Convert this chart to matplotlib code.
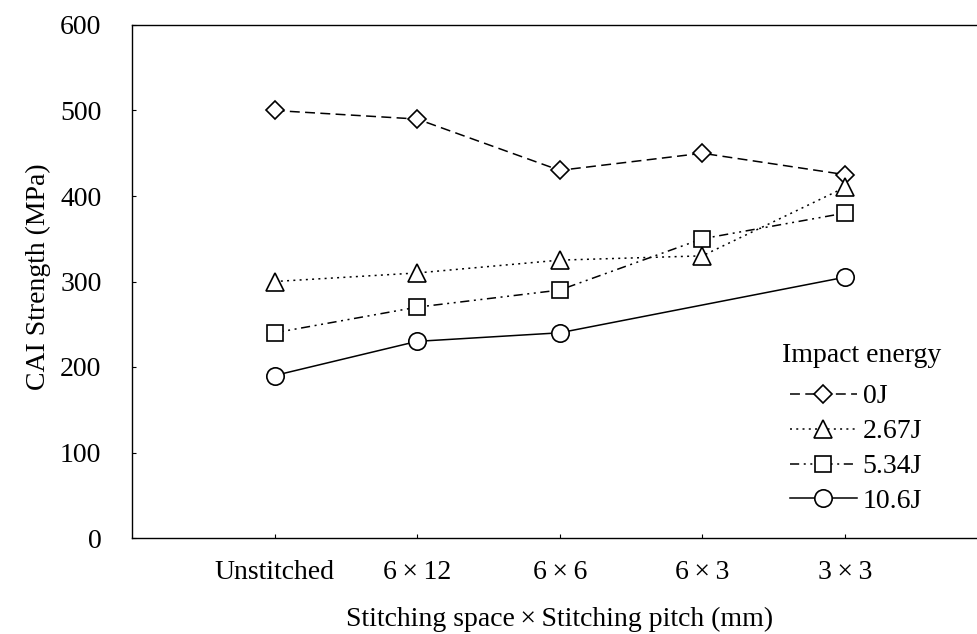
import numpy as np
import matplotlib
matplotlib.use("Agg")
import matplotlib.pyplot as plt

plt.rcParams['font.family'] = ['Liberation Serif', 'DejaVu Serif']

# data
categories = ["Unstitched", "6\u2009\u00d7\u200912", "6\u2009\u00d7\u20096", "6\u2009\u00d7\u20093", "3\u2009\u00d7\u20093"]
cai_0J = [500, 490, 430, 450, 425]
cai_267J = [300, 310, 325, 330, 410]
cai_534J = [240, 270, 290, 350, 380]
cai_106J_idx = [0, 1, 2, 4]          # no point at 6x3 for 10.6J
cai_106J = [190, 230, 240, 305]
y_ticks = [0, 100, 200, 300, 400, 500, 600]

FS = 20
W, H = 978, 634
fig = plt.figure(figsize=(W / 100, H / 100), dpi=100)
left, right, top, bottom = 132, 987.5, 25, 538
ax = fig.add_axes([left / W, 1 - bottom / H, (right - left) / W, (bottom - top) / H])

mk = dict(color='black', lw=1.1, markerfacecolor='white', markeredgecolor='black',
          markeredgewidth=1.2)
x = np.arange(len(categories))
ax.plot(x, cai_0J, ls=(0, (6.5, 3.5)), marker='D', ms=9.5, label='0J', **mk)
ax.plot(x, cai_267J, ls=(0, (1.3, 2.8)), marker='^', ms=13, label='2.67J', **mk)
ax.plot(x, cai_534J, ls=(0, (6, 3, 1.3, 3, 1.3, 3)), marker='s', ms=12, label='5.34J', **mk)
ax.plot(cai_106J_idx, cai_106J, ls='-', marker='o', ms=12.5, label='10.6J', **mk)

ax.set_xlim(-1, 5)
ax.set_ylim(0, 600)
ax.set_xticks(x)
ax.set_xticklabels(categories)
ax.set_yticks(y_ticks)
ax.tick_params(axis='both', direction='in', length=3, width=0.8, labelsize=FS)
ax.tick_params(axis='y', pad=22)
ax.tick_params(axis='x', pad=16)
ax.spines['right'].set_visible(False)
for s in ['left', 'bottom', 'top']:
    ax.spines[s].set_linewidth(1.0)

fig.text(38 / W, 1 - 277 / H, "CAI Strength (MPa)", rotation=90, ha='center', va='center', fontsize=FS)
fig.text(560 / W, 1 - 619 / H, "Stitching space\u2009\u00d7\u2009Stitching pitch (mm)", ha='center', va='center', fontsize=FS)

fig.text(782 / W, 1 - 355 / H, "Impact energy", ha='left', va='center', fontsize=FS)
ax.legend(loc='upper left', bbox_to_anchor=(790 / W, 1 - 384 / H), bbox_transform=fig.transFigure,
          frameon=False, borderpad=0, borderaxespad=0, handlelength=2.4, handletextpad=0.22,
          labelspacing=0.34, fontsize=FS)

fig.savefig("out.png", dpi=100)
